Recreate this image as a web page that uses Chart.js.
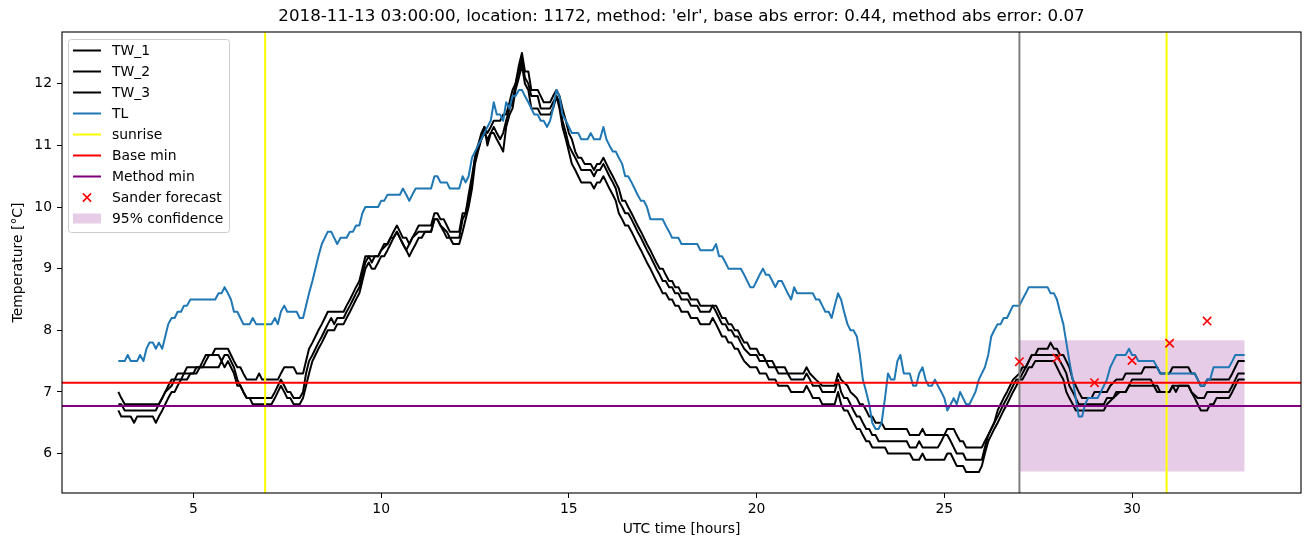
<!DOCTYPE html>
<html><head><meta charset="utf-8">
<script src="https://cdn.jsdelivr.net/npm/chart.js@4"></script>
<style>html,body{margin:0;padding:0;background:#fff;overflow:hidden}canvas{display:block}</style>
</head><body>
<canvas id="c" width="1311" height="547"></canvas>
<script>
const TITLE = "2018-11-13 03:00:00, location: 1172, method: 'elr', base abs error: 0.44, method abs error: 0.07";
const X_LABEL = "UTC time [hours]";
const Y_LABEL = "Temperature [\u00B0C]";
const X_MIN = 1.5, X_MAX = 34.5, Y_MIN = 5.36, Y_MAX = 12.84;
const xTicks = [5, 10, 15, 20, 25, 30];
const yTicks = [6, 7, 8, 9, 10, 11, 12];

const tw1 = [[3.0,7.0],[3.08,6.9],[3.17,6.8],[4.08,6.8],[4.17,6.9],[4.25,7.0],[4.33,7.1],[4.42,7.2],[4.5,7.2],[4.58,7.3],[4.75,7.3],[4.83,7.4],[5.17,7.4],[5.25,7.5],[5.33,7.6],[5.5,7.6],[5.58,7.7],[5.92,7.7],[6.0,7.6],[6.08,7.5],[6.17,7.4],[6.25,7.4],[6.33,7.3],[6.42,7.2],[6.67,7.2],[6.75,7.3],[6.83,7.2],[7.25,7.2],[7.33,7.3],[7.42,7.4],[7.67,7.4],[7.75,7.3],[7.92,7.3],[8.0,7.5],[8.08,7.7],[8.17,7.8],[8.25,7.9],[8.33,8.0],[8.42,8.1],[8.5,8.2],[8.58,8.3],[9.0,8.3],[9.08,8.4],[9.17,8.5],[9.25,8.6],[9.33,8.7],[9.42,8.8],[9.5,9.0],[9.58,9.2],[9.92,9.2],[10.0,9.3],[10.08,9.4],[10.17,9.4],[10.25,9.5],[10.33,9.6],[10.42,9.7],[10.5,9.6],[10.58,9.5],[10.67,9.5],[10.75,9.4],[10.83,9.5],[10.92,9.6],[11.0,9.7],[11.33,9.7],[11.42,9.9],[11.5,9.9],[11.58,9.8],[11.67,9.8],[11.75,9.7],[11.83,9.6],[12.08,9.6],[12.17,9.9],[12.25,9.9],[12.33,10.2],[12.42,10.5],[12.5,10.8],[12.58,11.0],[12.67,11.2],[12.75,11.3],[12.83,11.2],[12.92,11.3],[13.0,11.4],[13.17,11.4],[13.25,11.5],[13.33,11.5],[13.42,11.7],[13.5,11.9],[13.58,12.0],[13.67,12.3],[13.75,12.5],[13.83,12.2],[13.92,12.2],[14.0,11.9],[14.17,11.9],[14.25,11.8],[14.33,11.7],[14.5,11.7],[14.58,11.8],[14.67,11.9],[14.75,11.8],[14.83,11.6],[14.92,11.4],[15.0,11.2],[15.08,11.1],[15.17,10.9],[15.25,10.8],[15.33,10.8],[15.42,10.7],[15.58,10.7],[15.67,10.6],[15.75,10.7],[15.83,10.7],[15.92,10.8],[16.0,10.7],[16.08,10.6],[16.17,10.5],[16.25,10.4],[16.33,10.3],[16.42,10.1],[16.5,10.1],[16.58,10.0],[16.67,9.9],[16.75,9.8],[16.83,9.7],[16.92,9.6],[17.0,9.5],[17.08,9.4],[17.17,9.3],[17.25,9.2],[17.33,9.1],[17.42,9.0],[17.5,9.0],[17.58,8.9],[17.67,8.8],[17.75,8.8],[17.83,8.7],[17.92,8.7],[18.0,8.6],[18.17,8.6],[18.25,8.5],[18.42,8.5],[18.5,8.4],[18.92,8.4],[19.0,8.3],[19.08,8.2],[19.17,8.2],[19.25,8.1],[19.33,8.1],[19.42,8.0],[19.5,8.0],[19.58,7.9],[19.67,7.8],[19.75,7.8],[19.83,7.7],[20.0,7.7],[20.08,7.6],[20.17,7.6],[20.25,7.5],[20.42,7.5],[20.5,7.4],[20.75,7.4],[20.83,7.3],[21.25,7.3],[21.33,7.4],[21.42,7.3],[21.58,7.2],[21.75,7.1],[22.08,7.1],[22.17,7.3],[22.25,7.2],[22.42,7.1],[22.5,7.0],[22.67,6.9],[22.75,6.8],[22.83,6.8],[22.92,6.7],[23.0,6.6],[23.08,6.6],[23.17,6.5],[23.33,6.5],[23.42,6.4],[24.0,6.4],[24.08,6.3],[24.33,6.3],[24.42,6.4],[24.5,6.3],[25.0,6.3],[25.08,6.4],[25.25,6.4],[25.33,6.3],[25.42,6.2],[25.5,6.2],[25.58,6.1],[26.0,6.1],[26.08,6.2],[26.17,6.3],[26.25,6.4],[26.33,6.5],[26.42,6.7],[26.5,6.8],[26.58,6.9],[26.67,7.0],[26.75,7.1],[26.83,7.2],[27.0,7.3],[27.08,7.4],[27.17,7.4],[27.25,7.5],[27.33,7.6],[27.42,7.6],[27.5,7.7],[27.75,7.7],[27.83,7.8],[27.92,7.7],[28.0,7.7],[28.08,7.6],[28.17,7.6],[28.25,7.5],[28.33,7.4],[28.42,7.2],[28.5,7.1],[28.58,7.0],[28.67,6.9],[28.92,6.9],[29.0,7.0],[29.33,7.0],[29.42,7.1],[29.58,7.2],[29.75,7.2],[29.83,7.3],[30.25,7.3],[30.33,7.4],[30.67,7.4],[30.75,7.3],[31.0,7.3],[31.08,7.4],[31.5,7.4],[31.58,7.3],[31.67,7.3],[31.75,7.2],[31.83,7.1],[31.92,7.1],[32.0,7.2],[32.58,7.2],[32.67,7.3],[32.75,7.4],[32.83,7.5],[33.0,7.5]];

const tw2 = [[3.0,6.8],[3.08,6.8],[3.17,6.7],[4.0,6.7],[4.08,6.8],[4.17,6.9],[4.25,7.0],[4.42,7.1],[4.5,7.2],[4.67,7.2],[4.75,7.3],[5.0,7.3],[5.08,7.4],[5.25,7.4],[5.33,7.5],[5.42,7.6],[5.67,7.6],[5.75,7.5],[5.83,7.6],[5.92,7.6],[6.0,7.5],[6.08,7.4],[6.17,7.2],[6.25,7.1],[6.33,7.0],[6.42,6.9],[7.08,6.9],[7.17,7.0],[7.25,7.1],[7.33,7.2],[7.42,7.1],[7.5,7.0],[7.58,7.0],[7.67,6.9],[7.83,6.9],[7.92,7.0],[8.0,7.3],[8.08,7.5],[8.17,7.6],[8.25,7.7],[8.33,7.8],[8.42,7.9],[8.5,8.0],[8.58,8.1],[8.67,8.2],[8.75,8.1],[8.83,8.2],[9.0,8.2],[9.08,8.3],[9.17,8.4],[9.25,8.5],[9.33,8.6],[9.42,8.7],[9.5,8.9],[9.58,9.1],[9.67,9.2],[9.75,9.1],[9.83,9.2],[9.92,9.2],[10.0,9.3],[10.17,9.4],[10.25,9.5],[10.33,9.5],[10.42,9.6],[10.5,9.5],[10.58,9.4],[10.67,9.3],[10.75,9.4],[10.83,9.5],[11.0,9.6],[11.33,9.6],[11.42,9.8],[11.5,9.8],[11.58,9.7],[11.75,9.6],[11.83,9.5],[12.08,9.5],[12.17,9.8],[12.25,9.9],[12.33,10.1],[12.42,10.4],[12.5,10.8],[12.58,11.0],[12.67,11.1],[12.75,11.2],[12.83,11.1],[12.92,11.2],[13.0,11.3],[13.08,11.2],[13.17,11.1],[13.25,11.2],[13.33,11.4],[13.42,11.6],[13.5,11.7],[13.58,12.0],[13.67,12.2],[13.75,12.4],[13.83,12.1],[13.92,12.0],[14.0,11.8],[14.17,11.8],[14.25,11.6],[14.5,11.6],[14.58,11.7],[14.67,11.8],[14.75,11.7],[14.83,11.4],[14.92,11.2],[15.0,11.0],[15.08,10.9],[15.17,10.8],[15.25,10.7],[15.33,10.6],[15.58,10.6],[15.67,10.5],[15.75,10.6],[15.83,10.6],[15.92,10.7],[16.0,10.6],[16.08,10.5],[16.17,10.4],[16.25,10.3],[16.33,10.1],[16.42,10.0],[16.5,9.9],[16.58,9.9],[16.67,9.8],[16.75,9.7],[16.83,9.6],[16.92,9.5],[17.0,9.4],[17.08,9.3],[17.17,9.2],[17.25,9.1],[17.33,9.0],[17.42,8.9],[17.5,8.8],[17.58,8.8],[17.67,8.7],[17.75,8.7],[17.83,8.6],[17.92,8.6],[18.0,8.5],[18.17,8.5],[18.25,8.4],[18.42,8.4],[18.5,8.3],[18.75,8.3],[18.83,8.4],[18.92,8.3],[19.0,8.2],[19.08,8.1],[19.17,8.1],[19.25,8.0],[19.33,8.0],[19.42,7.9],[19.5,7.9],[19.58,7.8],[19.67,7.7],[19.83,7.6],[20.0,7.6],[20.08,7.5],[20.25,7.5],[20.33,7.4],[20.5,7.4],[20.58,7.3],[20.83,7.3],[20.92,7.2],[21.25,7.2],[21.33,7.3],[21.42,7.2],[21.5,7.1],[21.67,7.1],[21.75,7.0],[22.08,7.0],[22.17,7.2],[22.25,7.0],[22.33,6.9],[22.42,6.9],[22.5,6.8],[22.58,6.7],[22.67,6.6],[22.75,6.6],[22.83,6.5],[22.92,6.4],[23.0,6.4],[23.08,6.3],[23.17,6.3],[23.25,6.2],[24.0,6.2],[24.08,6.1],[24.25,6.1],[24.33,6.2],[24.42,6.1],[24.83,6.1],[24.92,6.2],[25.0,6.3],[25.08,6.3],[25.17,6.2],[25.25,6.1],[25.33,6.0],[25.5,6.0],[25.58,5.9],[26.0,5.9],[26.08,6.1],[26.17,6.3],[26.25,6.4],[26.33,6.5],[26.42,6.6],[26.5,6.7],[26.58,6.8],[26.67,6.9],[26.75,7.0],[26.83,7.1],[26.92,7.2],[27.0,7.2],[27.08,7.3],[27.17,7.4],[27.25,7.5],[27.33,7.6],[27.92,7.6],[28.0,7.6],[28.08,7.5],[28.17,7.4],[28.25,7.3],[28.33,7.1],[28.42,7.0],[28.5,6.9],[28.58,6.8],[29.25,6.8],[29.33,6.9],[29.5,6.9],[29.58,7.0],[29.83,7.0],[29.92,7.1],[30.0,7.2],[30.5,7.2],[30.58,7.1],[30.67,7.1],[30.75,7.0],[31.0,7.0],[31.08,7.1],[31.5,7.1],[31.58,7.0],[31.75,6.9],[31.92,6.9],[32.0,7.0],[32.58,7.0],[32.67,7.1],[32.75,7.2],[32.83,7.3],[33.0,7.3]];

const tw3 = [[3.0,6.7],[3.08,6.6],[3.33,6.6],[3.42,6.5],[3.5,6.6],[3.92,6.6],[4.0,6.5],[4.08,6.6],[4.17,6.7],[4.25,6.8],[4.33,6.9],[4.42,7.0],[4.5,7.0],[4.58,7.1],[4.67,7.2],[4.83,7.2],[4.92,7.3],[5.08,7.3],[5.17,7.4],[5.67,7.4],[5.75,7.5],[5.83,7.4],[5.92,7.5],[6.0,7.4],[6.08,7.3],[6.17,7.1],[6.25,7.1],[6.33,7.0],[6.42,6.9],[6.5,6.9],[6.58,6.8],[7.08,6.8],[7.17,6.9],[7.25,7.0],[7.33,7.1],[7.42,7.0],[7.5,6.9],[7.58,6.9],[7.67,6.8],[7.83,6.8],[7.92,6.9],[8.0,7.1],[8.08,7.3],[8.17,7.5],[8.25,7.6],[8.33,7.7],[8.42,7.8],[8.5,7.9],[8.58,8.0],[8.75,8.0],[8.83,8.1],[9.0,8.1],[9.08,8.2],[9.17,8.3],[9.25,8.4],[9.33,8.5],[9.42,8.6],[9.5,8.8],[9.58,9.0],[9.67,9.1],[9.75,9.0],[9.83,9.0],[9.92,9.1],[10.0,9.2],[10.08,9.2],[10.17,9.3],[10.25,9.4],[10.33,9.5],[10.42,9.6],[10.5,9.5],[10.58,9.4],[10.67,9.3],[10.75,9.2],[10.83,9.3],[10.92,9.4],[11.0,9.5],[11.08,9.5],[11.17,9.6],[11.33,9.6],[11.42,9.8],[11.5,9.8],[11.58,9.7],[11.67,9.6],[11.75,9.5],[11.83,9.5],[11.92,9.4],[12.08,9.4],[12.17,9.6],[12.25,9.8],[12.33,10.0],[12.42,10.3],[12.5,10.7],[12.58,10.9],[12.67,11.1],[12.75,11.3],[12.83,11.0],[12.92,11.2],[13.0,11.2],[13.08,11.1],[13.17,11.0],[13.25,10.9],[13.33,11.3],[13.42,11.5],[13.5,11.6],[13.58,11.9],[13.67,12.1],[13.75,12.3],[13.83,12.0],[13.92,11.9],[14.0,11.6],[14.17,11.6],[14.25,11.5],[14.5,11.5],[14.58,11.6],[14.67,11.8],[14.75,11.6],[14.83,11.3],[14.92,11.1],[15.0,10.9],[15.08,10.7],[15.17,10.6],[15.25,10.5],[15.33,10.4],[15.58,10.4],[15.67,10.3],[15.75,10.4],[15.83,10.4],[15.92,10.5],[16.0,10.4],[16.08,10.3],[16.17,10.2],[16.25,10.1],[16.33,9.9],[16.42,9.8],[16.5,9.7],[16.58,9.7],[16.67,9.6],[16.75,9.5],[16.83,9.4],[16.92,9.3],[17.0,9.2],[17.08,9.1],[17.17,9.0],[17.25,8.9],[17.33,8.8],[17.42,8.7],[17.5,8.6],[17.58,8.6],[17.67,8.5],[17.75,8.5],[17.83,8.4],[17.92,8.4],[18.0,8.3],[18.17,8.3],[18.25,8.2],[18.42,8.2],[18.5,8.1],[18.75,8.1],[18.83,8.2],[18.92,8.1],[19.0,8.0],[19.08,7.9],[19.17,7.9],[19.25,7.8],[19.33,7.8],[19.42,7.7],[19.5,7.7],[19.58,7.6],[19.67,7.5],[19.83,7.4],[20.0,7.4],[20.08,7.3],[20.25,7.3],[20.33,7.2],[20.5,7.2],[20.58,7.1],[20.83,7.1],[20.92,7.0],[21.25,7.0],[21.33,7.1],[21.42,7.0],[21.5,6.9],[21.67,6.9],[21.75,6.8],[22.08,6.8],[22.17,7.0],[22.25,6.8],[22.33,6.7],[22.42,6.7],[22.5,6.6],[22.58,6.5],[22.67,6.4],[22.75,6.4],[22.83,6.3],[22.92,6.2],[23.0,6.2],[23.08,6.1],[23.42,6.1],[23.5,6.0],[24.08,6.0],[24.17,5.9],[24.33,5.9],[24.42,6.0],[24.5,5.9],[25.0,5.9],[25.08,6.0],[25.17,6.0],[25.25,5.9],[25.33,5.8],[25.5,5.8],[25.58,5.7],[25.92,5.7],[26.0,5.8],[26.08,6.0],[26.17,6.2],[26.25,6.3],[26.33,6.4],[26.42,6.5],[26.5,6.6],[26.58,6.7],[26.67,6.8],[26.75,6.9],[26.83,7.0],[26.92,7.1],[27.0,7.2],[27.08,7.2],[27.17,7.3],[27.25,7.4],[27.33,7.4],[27.42,7.5],[27.92,7.5],[28.0,7.4],[28.08,7.3],[28.17,7.2],[28.25,7.0],[28.33,6.9],[28.42,6.8],[28.5,6.7],[29.25,6.7],[29.33,6.8],[29.5,6.9],[29.67,7.0],[29.83,7.0],[29.92,7.1],[30.58,7.1],[30.67,7.0],[31.0,7.0],[31.08,7.1],[31.17,7.0],[31.25,7.1],[31.5,7.1],[31.58,7.0],[31.67,6.9],[31.75,6.8],[31.83,6.7],[32.0,6.7],[32.08,6.8],[32.17,6.8],[32.25,6.9],[32.58,6.9],[32.67,7.0],[32.75,7.1],[32.83,7.2],[33.0,7.2]];

const tl = [[3.0,7.5],[3.17,7.5],[3.25,7.6],[3.33,7.5],[3.5,7.5],[3.58,7.6],[3.67,7.5],[3.75,7.7],[3.83,7.8],[3.92,7.8],[4.0,7.7],[4.08,7.8],[4.17,7.7],[4.25,7.9],[4.33,8.1],[4.42,8.2],[4.5,8.2],[4.58,8.3],[4.67,8.3],[4.75,8.4],[4.83,8.4],[4.92,8.5],[5.58,8.5],[5.67,8.6],[5.75,8.6],[5.83,8.7],[5.92,8.6],[6.0,8.5],[6.08,8.3],[6.17,8.3],[6.25,8.2],[6.33,8.1],[6.5,8.1],[6.58,8.2],[6.67,8.1],[7.08,8.1],[7.17,8.2],[7.25,8.1],[7.33,8.3],[7.42,8.4],[7.5,8.3],[7.75,8.3],[7.83,8.2],[7.92,8.2],[8.0,8.4],[8.08,8.6],[8.17,8.8],[8.25,9.0],[8.33,9.2],[8.42,9.4],[8.5,9.5],[8.58,9.6],[8.67,9.6],[8.75,9.5],[8.83,9.4],[8.92,9.5],[9.08,9.5],[9.17,9.6],[9.25,9.6],[9.33,9.7],[9.42,9.7],[9.5,9.9],[9.58,10.0],[9.92,10.0],[10.0,10.1],[10.08,10.1],[10.17,10.2],[10.5,10.2],[10.58,10.3],[10.67,10.2],[10.75,10.1],[10.83,10.2],[10.92,10.3],[11.33,10.3],[11.42,10.5],[11.5,10.5],[11.58,10.4],[11.75,10.4],[11.83,10.3],[12.08,10.3],[12.17,10.5],[12.25,10.4],[12.33,10.5],[12.42,10.8],[12.5,10.9],[12.58,11.0],[12.67,11.1],[12.75,11.2],[12.83,11.3],[12.92,11.4],[13.0,11.7],[13.08,11.5],[13.17,11.5],[13.25,11.4],[13.33,11.7],[13.42,11.6],[13.5,11.8],[13.58,11.8],[13.67,11.9],[13.75,11.9],[13.83,11.8],[13.92,11.7],[14.0,11.6],[14.08,11.5],[14.17,11.5],[14.25,11.4],[14.33,11.4],[14.42,11.3],[14.5,11.4],[14.58,11.6],[14.67,11.9],[14.75,11.8],[14.83,11.5],[14.92,11.4],[15.0,11.3],[15.08,11.2],[15.25,11.2],[15.33,11.1],[15.5,11.1],[15.58,11.2],[15.67,11.1],[15.83,11.1],[15.92,11.3],[16.0,11.1],[16.08,11.0],[16.17,10.9],[16.25,10.9],[16.33,10.8],[16.42,10.7],[16.5,10.5],[16.58,10.5],[16.67,10.4],[16.75,10.3],[16.83,10.2],[16.92,10.1],[17.0,10.1],[17.08,10.0],[17.17,9.8],[17.5,9.8],[17.58,9.7],[17.67,9.6],[17.75,9.5],[17.92,9.5],[18.0,9.4],[18.42,9.4],[18.5,9.3],[18.83,9.3],[18.92,9.4],[19.0,9.2],[19.08,9.2],[19.17,9.1],[19.25,9.0],[19.58,9.0],[19.67,8.9],[19.75,8.8],[19.83,8.7],[19.92,8.7],[20.0,8.8],[20.08,8.9],[20.17,9.0],[20.25,8.9],[20.33,8.9],[20.42,8.8],[20.5,8.7],[20.58,8.8],[20.67,8.8],[20.75,8.7],[20.83,8.6],[20.92,8.5],[21.0,8.7],[21.08,8.6],[21.5,8.6],[21.58,8.5],[21.67,8.5],[21.75,8.4],[21.83,8.3],[21.92,8.3],[22.0,8.2],[22.08,8.4],[22.17,8.6],[22.25,8.5],[22.33,8.3],[22.42,8.1],[22.5,8.0],[22.58,8.0],[22.67,7.9],[22.75,7.6],[22.83,7.2],[22.92,7.0],[23.0,6.8],[23.08,6.5],[23.17,6.4],[23.25,6.4],[23.33,6.5],[23.42,6.9],[23.5,7.3],[23.58,7.2],[23.67,7.2],[23.75,7.5],[23.83,7.6],[23.92,7.3],[24.08,7.3],[24.17,7.1],[24.25,7.1],[24.33,7.3],[24.42,7.4],[24.5,7.2],[24.58,7.1],[24.67,7.1],[24.75,7.2],[24.83,7.1],[24.92,7.0],[25.0,6.9],[25.08,6.7],[25.17,6.8],[25.25,6.9],[25.33,6.8],[25.42,7.0],[25.5,6.9],[25.58,6.8],[25.67,6.8],[25.75,6.9],[25.83,7.0],[25.92,7.2],[26.0,7.3],[26.08,7.4],[26.17,7.6],[26.25,7.9],[26.33,8.0],[26.42,8.1],[26.5,8.1],[26.58,8.2],[26.67,8.2],[26.75,8.3],[26.83,8.4],[27.0,8.4],[27.08,8.5],[27.17,8.6],[27.25,8.7],[27.75,8.7],[27.83,8.6],[27.92,8.6],[28.0,8.5],[28.08,8.3],[28.17,8.1],[28.25,7.8],[28.33,7.5],[28.42,7.2],[28.5,6.9],[28.58,6.6],[28.67,6.6],[28.75,6.8],[28.83,6.9],[29.08,6.9],[29.17,7.0],[29.25,7.1],[29.33,7.2],[29.42,7.4],[29.5,7.5],[29.58,7.6],[29.83,7.6],[29.92,7.7],[30.0,7.6],[30.08,7.6],[30.17,7.5],[30.58,7.5],[30.67,7.4],[30.75,7.3],[31.67,7.3],[31.75,7.2],[31.83,7.1],[31.92,7.1],[32.0,7.2],[32.08,7.2],[32.17,7.4],[32.58,7.4],[32.67,7.5],[32.75,7.6],[33.0,7.6]];

const sunriseHours = [6.91, 30.92];
const forecastStartHour = 27.0;
const baseMin = 7.15;
const methodMin = 6.77;
const sanderHours = [27, 28, 29, 30, 31, 32];
const sanderTemps = [7.49, 7.55, 7.15, 7.51, 7.79, 8.15];
const confHours = [27, 33];
const confLow = 5.71;
const confHigh = 7.84;

const FONT = '"DejaVu Sans", "Liberation Sans", sans-serif';
const FS = 13.9;

const toXY = arr => arr.map(p => ({x: p[0], y: p[1]}));
const vline = x => [{x: x, y: Y_MIN}, {x: x, y: Y_MAX}];
const hline = y => [{x: X_MIN, y: y}, {x: X_MAX, y: y}];

function lineDs(label, data, color, order, legendKind) {
  return {label, data, borderColor: color, backgroundColor: color, borderWidth: 2,
    pointRadius: 0, pointHoverRadius: 0, fill: false, tension: 0, order,
    borderJoinStyle: 'round', legendKind};
}

const datasets = [
  lineDs('TW_1', toXY(tw1), '#000000', 90, 'line'),
  lineDs('TW_2', toXY(tw2), '#000000', 89, 'line'),
  lineDs('TW_3', toXY(tw3), '#000000', 88, 'line'),
  lineDs('TL', toXY(tl), '#1f77b4', 87, 'line'),
  lineDs('sunrise', vline(sunriseHours[0]), '#ffff00', 86, 'line'),
  lineDs('sunrise', vline(sunriseHours[1]), '#ffff00', 85, null),
  lineDs('forecast start', vline(forecastStartHour), '#808080', 84, null),
  lineDs('Base min', hline(baseMin), '#ff0000', 83, 'line'),
  lineDs('Method min', hline(methodMin), '#800080', 82, 'line'),
  {label: 'Sander forecast', data: sanderHours.map((h, i) => ({x: h, y: sanderTemps[i]})),
   showLine: false, pointStyle: 'crossRot', pointRadius: 5.9, pointHoverRadius: 5.9,
   borderColor: '#ff0000', backgroundColor: '#ff0000', pointBorderWidth: 1.6, borderWidth: 1.6,
   order: 81, legendKind: 'marker'},
  {label: '95% confidence', data: confHours.map(h => ({x: h, y: confHigh})),
   borderWidth: 0, borderColor: 'rgba(0,0,0,0)', pointRadius: 0,
   backgroundColor: 'rgba(128,0,128,0.2)', fill: {value: confLow}, order: 200, legendKind: 'patch'}
];

const decor = {
  id: 'decor',
  beforeDraw(chart) {
    const ctx = chart.ctx;
    ctx.save(); ctx.fillStyle = '#fff'; ctx.fillRect(0, 0, chart.width, chart.height); ctx.restore();
  },
  afterDraw(chart) {
    const ctx = chart.ctx, a = chart.chartArea;
    ctx.save();
    ctx.strokeStyle = '#000'; ctx.lineWidth = 1.1;
    ctx.strokeRect(a.left, a.top, a.right - a.left, a.bottom - a.top);
    ctx.fillStyle = '#000';
    ctx.font = '16.7px ' + FONT;
    ctx.textAlign = 'center'; ctx.textBaseline = 'middle';
    ctx.fillText(TITLE, (a.left + a.right) / 2, 17);
    ctx.font = FS + 'px ' + FONT;
    ctx.fillText(X_LABEL, (a.left + a.right) / 2, 529);
    ctx.save();
    ctx.translate(18, (a.top + a.bottom) / 2);
    ctx.rotate(-Math.PI / 2);
    ctx.fillText(Y_LABEL, 0, 0);
    ctx.restore();
    const items = chart.data.datasets.filter(d => d.legendKind);
    const lx = 68.5, ly = 39.5, lw = 161, lh = 193;
    ctx.fillStyle = 'rgba(255,255,255,0.8)';
    ctx.strokeStyle = '#cccccc'; ctx.lineWidth = 1;
    ctx.beginPath(); ctx.roundRect(lx, ly, lw, lh, 3); ctx.fill(); ctx.stroke();
    items.forEach((d, i) => {
      const cy = 50.5 + i * 21;
      if (d.legendKind === 'line') {
        ctx.strokeStyle = d.borderColor; ctx.lineWidth = 2;
        ctx.beginPath(); ctx.moveTo(73, cy); ctx.lineTo(101, cy); ctx.stroke();
      } else if (d.legendKind === 'marker') {
        ctx.strokeStyle = d.borderColor; ctx.lineWidth = 1.6;
        const r = 4.1, cx = 87;
        ctx.beginPath();
        ctx.moveTo(cx - r, cy - r); ctx.lineTo(cx + r, cy + r);
        ctx.moveTo(cx - r, cy + r); ctx.lineTo(cx + r, cy - r);
        ctx.stroke();
      } else if (d.legendKind === 'patch') {
        ctx.fillStyle = d.backgroundColor;
        ctx.fillRect(73, cy - 5, 28, 10);
      }
      ctx.fillStyle = '#000';
      ctx.font = FS + 'px ' + FONT;
      ctx.textAlign = 'left'; ctx.textBaseline = 'middle';
      ctx.fillText(d.label, 112, cy + 0.5);
    });
    ctx.restore();
  }
};

new Chart(document.getElementById('c'), {
  type: 'line',
  data: {datasets},
  options: {
    responsive: false, animation: false, devicePixelRatio: 1,
    layout: {padding: {left: 0, right: 10, top: 32, bottom: 0}},
    plugins: {legend: {display: false}, title: {display: false}, tooltip: {enabled: false}},
    events: [],
    scales: {
      x: {
        type: 'linear', min: X_MIN, max: X_MAX,
        afterBuildTicks: s => { s.ticks = xTicks.map(v => ({value: v})); },
        afterFit: s => { s.height = 54; },
        grid: {drawOnChartArea: false, drawTicks: true, tickLength: 5, color: '#000', lineWidth: 1},
        border: {display: false},
        ticks: {color: '#000', font: {family: FONT, size: FS}, padding: 3, maxRotation: 0, autoSkip: false,
          callback: v => String(v)}
      },
      y: {
        type: 'linear', min: Y_MIN, max: Y_MAX,
        afterBuildTicks: s => { s.ticks = yTicks.map(v => ({value: v})); },
        afterFit: s => { s.width = 62; },
        grid: {drawOnChartArea: false, drawTicks: true, tickLength: 5, color: '#000', lineWidth: 1},
        border: {display: false},
        ticks: {color: '#000', font: {family: FONT, size: FS}, padding: 5, autoSkip: false,
          callback: v => String(v)}
      }
    }
  },
  plugins: [decor]
});
</script>
</body></html>
